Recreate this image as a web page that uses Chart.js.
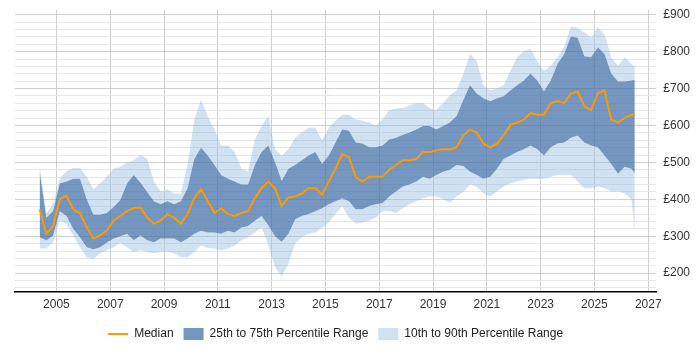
<!DOCTYPE html>
<html>
<head>
<meta charset="utf-8">
<script src="https://cdn.jsdelivr.net/npm/chart.js@4"></script>
<style>
  html, body { margin: 0; padding: 0; background: #fff; }
  #wrap { width: 700px; height: 350px; }
</style>
</head>
<body>
<div id="wrap"><canvas id="rateChart"></canvas></div>
<script>
// decimal years, roughly quarterly
const dates = [
  2004.375, 2004.625, 2004.875, 2005.125, 2005.375, 2005.625, 2005.875, 2006.125, 2006.375, 2006.625,
  2006.875, 2007.125, 2007.375, 2007.625, 2007.875, 2008.125, 2008.375, 2008.625, 2008.875, 2009.125,
  2009.375, 2009.625, 2009.875, 2010.125, 2010.375, 2010.625, 2010.875, 2011.125, 2011.375, 2011.625,
  2011.875, 2012.125, 2012.375, 2012.625, 2012.875, 2013.125, 2013.375, 2013.625, 2013.875, 2014.125,
  2014.375, 2014.625, 2014.875, 2015.125, 2015.375, 2015.625, 2015.875, 2016.125, 2016.375, 2016.625,
  2016.875, 2017.125, 2017.375, 2017.625, 2017.875, 2018.125, 2018.375, 2018.625, 2018.875, 2019.125,
  2019.375, 2019.625, 2019.875, 2020.125, 2020.375, 2020.625, 2020.875, 2021.125, 2021.375, 2021.625,
  2021.875, 2022.125, 2022.375, 2022.625, 2022.875, 2023.125, 2023.375, 2023.625, 2023.875, 2024.125,
  2024.375, 2024.625, 2024.875, 2025.125, 2025.375, 2025.625, 2025.875, 2026.125, 2026.375, 2026.5
];

const median = [
  373, 307, 328, 400, 410, 373, 363, 324, 294, 302,
  316, 342, 355, 368, 376, 378, 350, 334, 342, 360,
  350, 334, 360, 403, 427, 395, 363, 376, 360, 355,
  363, 368, 403, 430, 448, 430, 382, 405, 408, 416,
  430, 430, 413, 448, 483, 523, 514, 461, 448, 461,
  461, 461, 480, 493, 506, 506, 509, 528, 528, 533,
  536, 536, 541, 573, 589, 581, 551, 541, 551, 573,
  602, 608, 616, 634, 629, 629, 661, 666, 661, 687,
  692, 652, 642, 687, 695, 616, 608, 621, 629, 629
];

const p25 = [
  297, 289, 302, 368, 355, 320, 297, 270, 265, 270,
  283, 294, 300, 307, 289, 302, 289, 284, 294, 294,
  294, 284, 294, 307, 315, 310, 310, 307, 315, 310,
  324, 328, 342, 355, 330, 300, 285, 307, 346, 355,
  360, 368, 376, 387, 395, 403, 395, 373, 373, 382,
  387, 390, 408, 421, 435, 440, 448, 461, 456, 466,
  475, 480, 493, 490, 475, 466, 456, 461, 483, 509,
  519, 528, 536, 546, 536, 519, 541, 551, 554, 567,
  573, 554, 546, 541, 519, 496, 469, 488, 483, 470
];

const p75 = [
  475, 350, 368, 443, 448, 456, 456, 400, 358, 358,
  363, 379, 398, 443, 466, 445, 420, 395, 387, 395,
  387, 395, 430, 509, 540, 519, 493, 466, 456, 448,
  440, 440, 493, 528, 546, 501, 450, 483, 493, 506,
  519, 528, 496, 519, 554, 589, 586, 554, 551, 541,
  541, 546, 562, 567, 575, 581, 589, 599, 599, 589,
  599, 608, 626, 669, 709, 687, 674, 666, 674, 679,
  695, 709, 722, 741, 722, 692, 722, 767, 794, 841,
  838, 788, 785, 812, 794, 741, 719, 719, 722, 724
];

const p10 = [
  267, 267, 284, 342, 334, 302, 270, 243, 238, 254,
  262, 270, 281, 270, 257, 262, 257, 254, 257, 257,
  254, 243, 243, 257, 275, 268, 267, 262, 267, 275,
  289, 297, 310, 324, 275, 217, 190, 227, 280, 297,
  307, 310, 324, 337, 360, 382, 350, 334, 337, 342,
  350, 368, 368, 363, 376, 387, 395, 403, 408, 408,
  400, 390, 408, 420, 440, 435, 416, 408, 421, 435,
  443, 448, 453, 456, 456, 456, 461, 466, 466, 466,
  448, 430, 430, 435, 430, 421, 421, 416, 400, 315
];

const p90 = [
  490, 363, 387, 456, 477, 485, 485, 461, 427, 443,
  461, 483, 488, 500, 506, 520, 510, 448, 421, 427,
  416, 416, 493, 616, 670, 625, 589, 546, 546, 528,
  483, 475, 562, 599, 626, 536, 519, 536, 567, 581,
  594, 594, 560, 594, 613, 629, 629, 616, 613, 608,
  599, 616, 642, 647, 647, 655, 661, 661, 647, 642,
  661, 682, 695, 740, 794, 775, 709, 695, 701, 709,
  748, 785, 802, 807, 775, 748, 762, 785, 812, 868,
  865, 852, 838, 865, 847, 785, 762, 785, 767, 759
];

const xTicks = [2005, 2007, 2009, 2011, 2013, 2015, 2017, 2019, 2021, 2023, 2025, 2027];

const pts = arr => arr.map((v, i) => ({ x: dates[i], y: v }));

const darkBand = 'rgba(70, 115, 170, 0.75)';
const lightBand = 'rgba(150, 188, 224, 0.45)';
const font = { family: 'Arial, "Liberation Sans", sans-serif', size: 12 };

const band = (label, data, fill, color) => ({
  label, data: pts(data), fill, backgroundColor: color,
  borderWidth: 0, pointRadius: 0, pointHoverRadius: 0, pointStyle: 'rect'
});

const ctx = document.getElementById('rateChart').getContext('2d');
new Chart(ctx, {
  type: 'line',
  data: {
    datasets: [
      {
        label: 'Median', data: pts(median), borderColor: '#ff9900', backgroundColor: '#ff9900',
        borderWidth: 2, pointRadius: 0, fill: false, tension: 0, pointStyle: 'line'
      },
      band('25th to 75th Percentile Range', p75, 3, darkBand),
      band('10th to 90th Percentile Range', p90, 1, lightBand),
      band('p25', p25, 4, lightBand),
      band('p10', p10, false, 'rgba(0,0,0,0)')
    ]
  },
  options: {
    responsive: true,
    maintainAspectRatio: false,
    animation: false,
    layout: { padding: { left: 15, right: 3, top: 2, bottom: 0 } },
    scales: {
      x: {
        type: 'linear', min: 2003.46, max: 2027.3,
        afterBuildTicks: s => { s.ticks = xTicks.map(v => ({ value: v })); },
        ticks: { font, color: '#333', padding: 6, callback: v => String(v), autoSkip: false, maxRotation: 0 },
        grid: { color: '#cfcfcf', drawTicks: false },
        border: { color: '#000', width: 1.5 }
      },
      y: {
        position: 'right', min: 150, max: 913,
        afterBuildTicks: s => {
          const t = [];
          for (let v = 160; v <= 900; v += 20) t.push({ value: v });
          s.ticks = t;
        },
        ticks: { font: { ...font, lineHeight: 0.5 }, color: '#333', padding: 7, autoSkip: false,
          callback: v => (v % 100 === 0 ? '£' + v : '') },
        grid: { drawTicks: false, color: c => (c.tick && c.tick.value % 100 === 0 ? '#cfcfcf' : '#e6e6e6') },
        border: { display: false }
      }
    },
    plugins: {
      tooltip: { enabled: false },
      legend: {
        position: 'bottom', fullSize: false,
        labels: {
          font, color: '#222', usePointStyle: true, pointStyleWidth: 20,
          boxWidth: 20, boxHeight: 15, padding: 10,
          filter: item => item.datasetIndex < 3
        }
      }
    }
  }
});
</script>
</body>
</html>
